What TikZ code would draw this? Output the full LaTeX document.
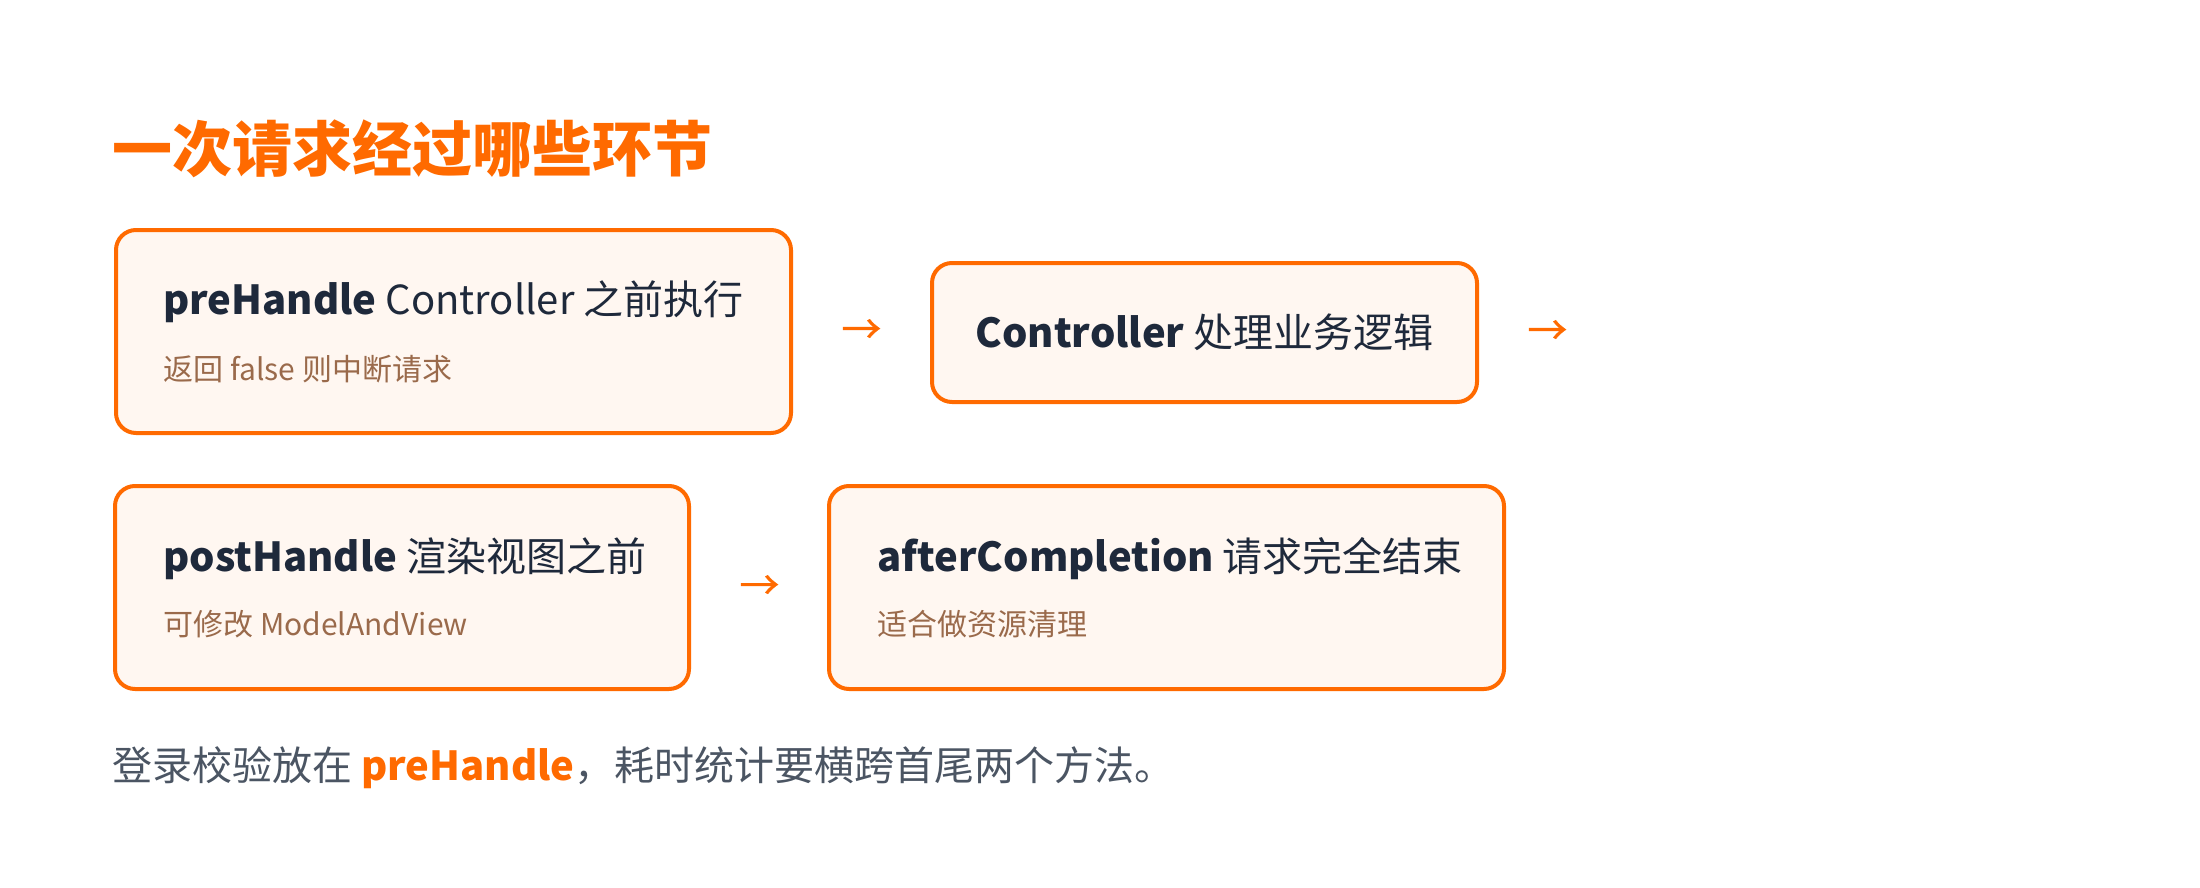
\documentclass[tikz,border=0pt]{standalone}
\usepackage{fontspec}
\setmainfont{Noto Sans CJK SC}
\newfontfamily\arrowfont[FakeBold=1]{Noto Sans CJK SC}
\usepackage{tikz}
\usetikzlibrary{positioning}
\definecolor{accent}{HTML}{FF6A00}
\definecolor{paper}{HTML}{FFF7F1}
\definecolor{ink}{HTML}{1E293B}
\definecolor{hint}{HTML}{9A6A4B}
\definecolor{remark}{HTML}{4B5563}
\tikzset {
        stagebox/.style={rectangle, rounded corners=10pt, draw=accent, fill=paper, line width=2pt, anchor=north west, inner sep=0pt, minimum height=101.5pt},
        stagehead/.style={anchor=base west, inner sep=0pt, text=ink, font=\fontsize{20}{24}\selectfont},
        stagenote/.style={anchor=base west, inner sep=0pt, text=hint, font=\fontsize{15}{18}\selectfont},
        flowarrow/.style={inner sep=0pt, text=accent, font=\fontsize{20}{24}\arrowfont},
        default/.style={}
}

\begin{document}
\begin{tikzpicture}[x=0.5pt, y=-0.5pt]
            \useasboundingbox (0,0) rectangle (2200,888);
            \node[anchor=base west, inner sep=0pt, text=accent, font=\fontsize{30}{36}\selectfont\bfseries] (Heading) at (112,171) {
                一次请求经过哪些环节
            };
            \node[stagebox, minimum width=337.5pt] (PreHandle) at (114,228) {};
            \node[stagehead] (PreHandleHead) at ([xshift=24.5pt, yshift=-43pt]PreHandle.north west) {
                \textbf{preHandle} Controller 之前执行
            };
            \node[stagenote] (PreHandleNote) at ([xshift=24.5pt, yshift=-76pt]PreHandle.north west) {
                返回 false 则中断请求
            };
            \node[flowarrow, right=24pt of PreHandle] (ArrowA) {→};
            \node[stagebox, minimum width=272.5pt, minimum height=69.5pt] (Controller) at (930,261) {};
            \node[stagehead, anchor=base] (ControllerHead) at ([yshift=-43pt]Controller.north) {
                \textbf{Controller} 处理业务逻辑
            };
            \node[flowarrow, right=24pt of Controller] (ArrowB) {→};
            \node[stagebox, minimum width=287pt] (PostHandle) at (113,484) {};
            \node[stagehead] (PostHandleHead) at ([xshift=25pt, yshift=-43.5pt]PostHandle.north west) {
                \textbf{postHandle} 渲染视图之前
            };
            \node[stagenote] (PostHandleNote) at ([xshift=25pt, yshift=-75.5pt]PostHandle.north west) {
                可修改 ModelAndView
            };
            \node[flowarrow, right=24pt of PostHandle] (ArrowC) {→};
            \node[stagebox, minimum width=337.5pt] (AfterCompletion) at (827,484) {};
            \node[stagehead] (AfterCompletionHead) at ([xshift=25pt, yshift=-43.5pt]AfterCompletion.north west) {
                \textbf{afterCompletion} 请求完全结束
            };
            \node[stagenote] (AfterCompletionNote) at ([xshift=25pt, yshift=-75.5pt]AfterCompletion.north west) {
                适合做资源清理
            };
            \node[anchor=base west, inner sep=0pt, text=remark, font=\fontsize{20}{24}\selectfont] (Remark) at (112,780) {
                登录校验放在 {\bfseries\color{accent}preHandle}，耗时统计要横跨首尾两个方法。
            };
        \end{tikzpicture}
\end{document}
